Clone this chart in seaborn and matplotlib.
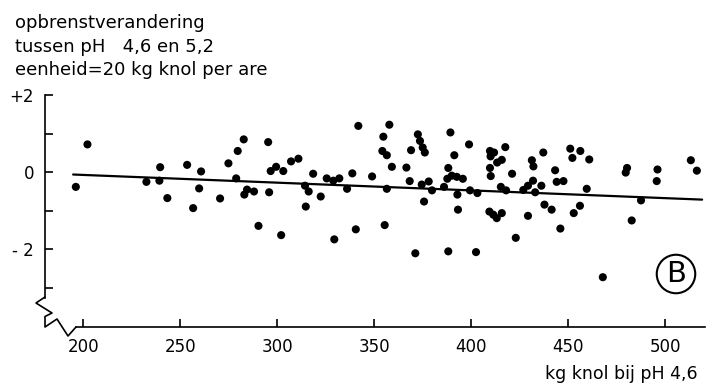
import matplotlib
matplotlib.use("Agg")
import matplotlib.pyplot as plt
import seaborn as sns
import pandas as pd
from matplotlib.lines import Line2D

# ---- data ----
kg_knol = [196.1, 202.1, 232.5, 239.2, 239.6, 243.3, 253.5, 256.6, 259.7, 260.7,
           270.5, 274.8, 278.8, 279.6, 282.7, 283.0, 284.4, 288.0, 290.3, 295.3,
           295.8, 296.6, 299.4, 302.0, 303.1, 307.1, 310.9, 314.3, 314.7, 316.2,
           318.5, 322.4, 325.5, 328.9, 332.0, 329.4, 336.0, 338.7, 340.5, 341.8,
           348.9, 354.2, 354.7, 355.4, 356.5, 356.5, 357.8, 359.1, 366.6, 368.3,
           369.0, 371.2, 372.5, 373.6, 375.0, 376.1, 374.5, 375.7, 378.1, 379.8,
           386.0, 387.7, 388.2, 388.2, 389.3, 390.0, 391.3, 392.6, 392.9, 393.2,
           395.7, 398.9, 399.4, 402.5, 403.2, 409.7, 411.8, 410.0, 413.4, 415.8,
           409.7, 410.1, 409.4, 411.4, 413.2, 415.8, 415.3, 417.6, 418.0, 421.1,
           423.0, 426.9, 429.3, 431.9, 433.0, 429.3, 431.3, 432.1, 436.2, 437.2,
           437.8, 441.5, 443.3, 444.1, 447.6, 446.0, 451.1, 456.3, 452.2, 460.9,
           459.6, 456.1, 452.9, 467.9, 480.4, 479.7, 482.8, 487.6, 496.1, 495.7,
           513.3, 516.4]
opbrengst = [-0.38, 0.72, -0.25, -0.22, 0.13, -0.67, 0.19, -0.93, -0.42, 0.02,
             -0.68, 0.23, -0.16, 0.55, 0.85, -0.58, -0.45, -0.50, -1.39, 0.78,
             -0.52, 0.03, 0.14, -1.63, 0.03, 0.28, 0.35, -0.35, -0.89, -0.50,
             -0.04, -0.63, -0.16, -0.22, -0.16, -1.74, -0.43, -0.03, -1.48, 1.20,
             -0.11, 0.55, 0.92, -1.37, 0.44, -0.43, 1.23, 0.14, 0.12, -0.23,
             0.57, -2.10, 0.98, 0.81, 0.64, 0.51, -0.32, -0.76, -0.24, -0.47,
             -0.38, -0.17, 0.11, -2.05, 1.03, -0.09, 0.44, -0.12, -0.58, -0.97,
             -0.17, 0.72, -0.47, -2.07, -0.54, 0.55, 0.51, 0.41, 0.25, 0.32,
             0.11, -0.10, -1.02, -1.10, -1.19, -1.06, -0.38, 0.65, -0.47, -0.04,
             -1.70, -0.46, -0.35, -0.22, -0.52, -1.13, 0.31, 0.15, -0.35, 0.51,
             -0.84, -0.97, 0.05, -0.25, -0.23, -1.46, 0.61, 0.55, 0.37, 0.33,
             -0.43, -0.87, -1.06, -2.72, 0.11, -0.01, -1.25, -0.73, 0.07, -0.23,
             0.31, 0.04]
trend_x = [194.7, 519.1]
trend_y = [-0.06, -0.71]

x_ticks = [200, 250, 300, 350, 400, 450, 500]
y_ticks = [2, 1, 0, -1, -2, -3]
y_tick_labels = ["+2", "", "0", "", "- 2", ""]
title_lines = ["opbrenstverandering", "tussen pH   4,6 en 5,2",
               "eenheid=20 kg knol per are"]
x_label = "kg knol bij pH 4,6"
panel = "B"

df = pd.DataFrame({"x": kg_knol, "y": opbrengst})
trend = pd.DataFrame({"x": trend_x, "y": trend_y})

sns.set_theme(style="white")
plt.rcParams["font.family"] = ["DejaVu Sans"]

W, H = 707, 389
fig = plt.figure(figsize=(W / 100, H / 100), dpi=100)
ax = fig.add_axes([45 / W, 1 - 327 / H, 660 / W, 232 / H])

sns.scatterplot(data=df, x="x", y="y", ax=ax, color="black", s=34,
                edgecolor="none", linewidth=0, zorder=3)
sns.lineplot(data=trend, x="x", y="y", ax=ax, color="black", linewidth=1.6,
             zorder=2)

ax.set_xlim(180.2, 520.6)
ax.set_ylim(-4.01, 2.0)
ax.set_xlabel("")
ax.set_ylabel("")

for s in ["top", "right"]:
    ax.spines[s].set_visible(False)
for s in ["left", "bottom"]:
    ax.spines[s].set_color("black")
    ax.spines[s].set_linewidth(1.2)
ax.spines["left"].set_bounds(-3.25, 2.0)
ax.spines["bottom"].set_bounds(196.2, 520.6)

ax.set_xticks(x_ticks)
ax.set_xticklabels([str(t) for t in x_ticks])
ax.set_yticks(y_ticks)
ax.set_yticklabels(y_tick_labels)
ax.tick_params(axis="both", direction="in", length=6, width=1.2,
               color="black", labelsize=12, labelcolor="black",
               bottom=True, left=True, top=False, right=False)
ax.tick_params(axis="x", pad=8)
ax.tick_params(axis="y", pad=8)

# axis break zigzags (pixel coords -> figure fraction)
def px(pts):
    return [p[0] / W for p in pts], [1 - p[1] / H for p in pts]

zx, zy = px([(45, 297), (36, 303), (52, 313), (45, 316.5), (45, 327),
             (57, 319), (68, 336), (76, 327)])
fig.add_artist(Line2D(zx, zy, color="black", linewidth=1.2))

# title block
for i, line in enumerate(title_lines):
    fig.text(15 / W, 1 - (28 + 23.5 * i) / H, line, fontsize=13,
             ha="left", va="baseline", color="black")

# x label
fig.text(698 / W, 1 - 383 / H, x_label, fontsize=12.5, ha="right",
         va="bottom", color="black")

# panel letter
fig.text(676 / W, 1 - 274 / H, panel, fontsize=21, ha="center", va="center",
         color="black",
         bbox=dict(boxstyle="circle,pad=0.18", fc="white", ec="black", lw=1.5))

fig.savefig("out.png", dpi=100)
